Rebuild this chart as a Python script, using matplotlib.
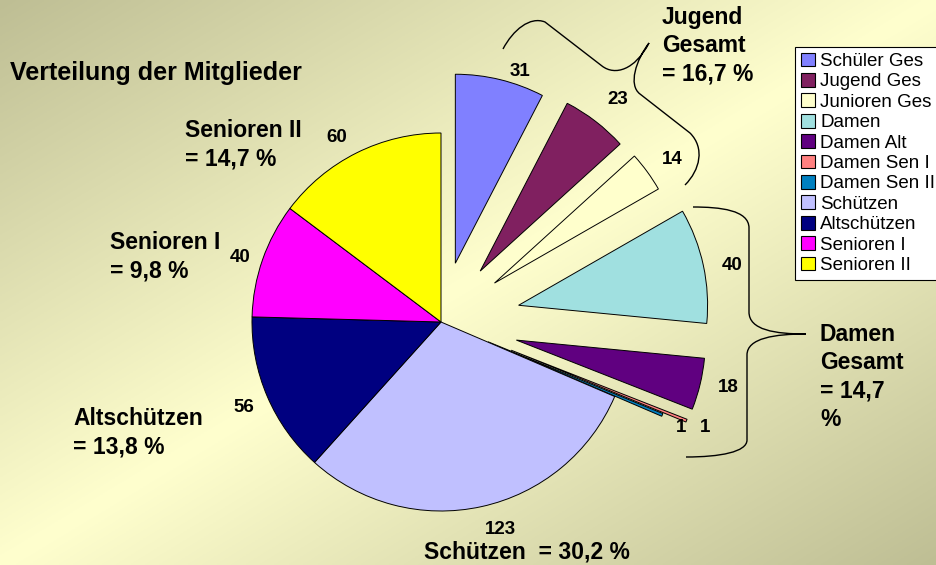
import numpy as np
import matplotlib
matplotlib.use("Agg")
import matplotlib.pyplot as plt
from matplotlib.patches import Patch, PathPatch
from matplotlib.path import Path

plt.rcParams['font.family'] = ['Liberation Sans', 'DejaVu Sans']

# data
categories = ["Schüler Ges", "Jugend Ges", "Junioren Ges", "Damen", "Damen Alt",
              "Damen Sen I", "Damen Sen II", "Schützen", "Altschützen",
              "Senioren I", "Senioren II"]
members = [31, 23, 14, 40, 18, 1, 1, 123, 56, 40, 60]
colors = ["#8080FF", "#802060", "#FFFFCC", "#A0E0E0", "#600080", "#FF8080",
          "#0080C0", "#C0C0FF", "#000080", "#FF00FF", "#FFFF00"]
explode = [0.32, 0.34, 0.35, 0.42, 0.41, 0.40, 0.27, 0, 0, 0, 0]

W, H = 937, 565
R = 189


def Y(py):
    # pixel row -> data y
    return H - py


fig = plt.figure(figsize=(W / 100, H / 100), dpi=100)
ax = fig.add_axes([0, 0, 1, 1])

# background gradient (dark top-left and bottom-right, light along the other diagonal)
xx, yy = np.meshgrid(np.linspace(0, 1, 400), np.linspace(0, 1, 250))
f = 1 - np.abs(xx + yy - 1)
dark = np.array([190, 190, 148]) / 255
light = np.array([255, 255, 206]) / 255
img = dark + (light - dark) * f[..., None]
ax.imshow(img, extent=(0, W, 0, H), origin='upper', aspect='auto', zorder=0)

# explode in pie is in data units, so scale by the radius
ax.pie(members, colors=colors, explode=[e * R for e in explode], startangle=90,
       counterclock=False, center=(441, Y(322)), radius=R,
       wedgeprops=dict(edgecolor='black', linewidth=0.7))
ax.set_xlim(0, W)
ax.set_ylim(0, H)
ax.set_aspect('auto')
ax.axis('off')

# value labels
num_pos = [(520, 71), (618, 99), (672, 160), (732, 265), (728, 388), (681, 428),
           (705, 428), (500, 530), (244, 407), (240, 257), (337, 137)]
for v, (px, py) in zip(members, num_pos):
    ax.text(px, Y(py), str(v), fontsize=13.5, fontweight='bold', ha='center', va='center')

# group labels
big = dict(fontsize=16.5, fontweight='bold', ha='left', va='top', linespacing=1.3)
ax.text(662, Y(6), "Jugend\nGesamt\n= 16,7 %", **big)
ax.text(820, Y(323), "Damen\nGesamt\n= 14,7\n%", **big)
ax.text(185, Y(119), "Senioren II\n= 14,7 %", **big)
ax.text(110, Y(231), "Senioren I\n= 9,8 %", **big)
ax.text(73, Y(407), "Altschützen\n= 13,8 %", **big)
ax.text(424, Y(540), "Schützen  = 30,2 %", **big)
ax.text(10, Y(73), "Verteilung der Mitglieder", fontsize=18, fontweight='bold',
        ha='left', va='center')

# curly braces
C = Path.CURVE4
L = Path.LINETO
M = Path.MOVETO
jug = [(503, 49), (513, 30), (530, 16), (545, 22), (602, 66),
       (615, 76), (635, 70), (649, 43),
       (636, 60), (628, 85), (640, 94),
       (690, 133), (705, 148), (700, 170), (685, 185)]
jug_codes = [M, C, C, C, L, C, C, C, C, C, C, L, C, C, C]
dam = [(693, 207), (720, 207), (749, 210), (749, 228), (749, 312),
       (749, 330), (775, 334), (806, 334),
       (775, 334), (747, 338), (747, 355), (747, 440),
       (747, 452), (720, 457), (686, 457)]
dam_codes = [M, C, C, C, L, C, C, C, C, C, C, L, C, C, C]
for pts, codes in [(jug, jug_codes), (dam, dam_codes)]:
    verts = [(px, Y(py)) for px, py in pts]
    ax.add_patch(PathPatch(Path(verts, codes), fill=False, edgecolor='black', linewidth=1.0))

# legend
handles = [Patch(facecolor=c, edgecolor='black', linewidth=0.8) for c in colors]
leg = fig.legend(handles, categories, loc='upper left',
                 bbox_to_anchor=(795 / W, 1 - 47 / H), fontsize=13.5,
                 frameon=True, fancybox=False, edgecolor='black', framealpha=1,
                 handlelength=0.75, handleheight=0.75, handletextpad=0.3,
                 labelspacing=0.16, borderpad=0.3, borderaxespad=0)
leg.get_frame().set_linewidth(0.8)

fig.savefig("out.png", dpi=100)
